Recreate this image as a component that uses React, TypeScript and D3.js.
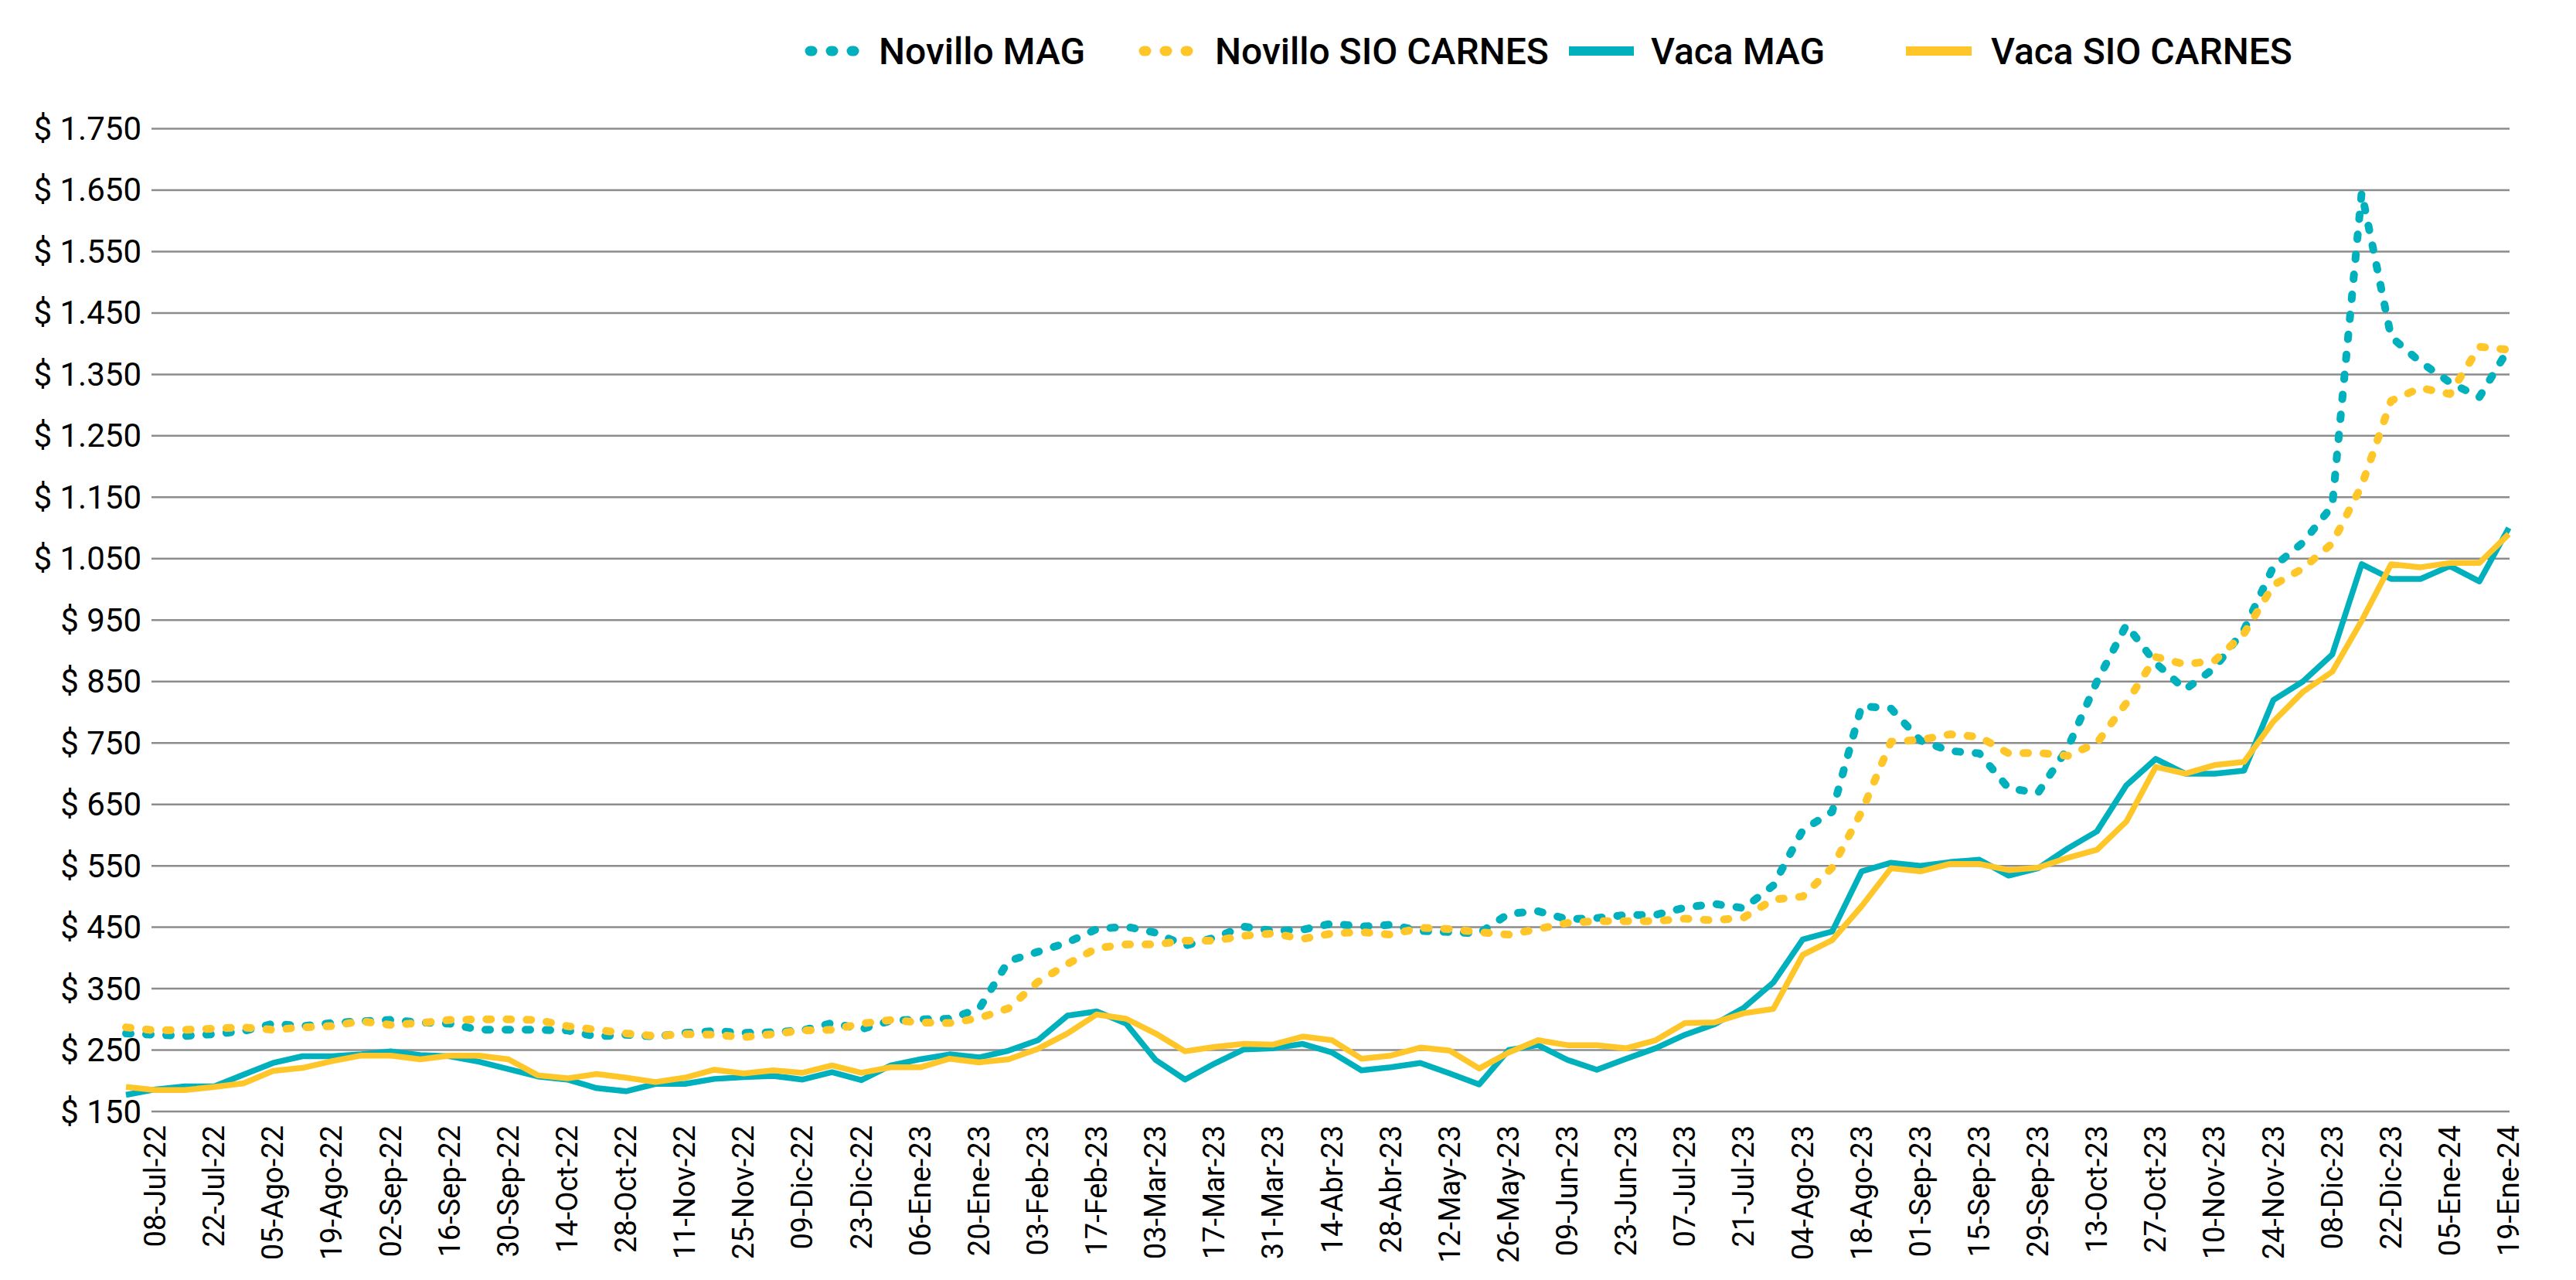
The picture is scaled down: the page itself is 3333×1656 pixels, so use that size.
import React, { useEffect, useRef } from 'react';
import * as d3 from 'd3';

const W = 3333;
const H = 1656;

// weekly categories (only every other one is labelled)
const weeks = [
  '01-Jul-22', '08-Jul-22', '15-Jul-22', '22-Jul-22', '29-Jul-22', '05-Ago-22', '12-Ago-22', '19-Ago-22', '26-Ago-22', '02-Sep-22',
  '09-Sep-22', '16-Sep-22', '23-Sep-22', '30-Sep-22', '07-Oct-22', '14-Oct-22', '21-Oct-22', '28-Oct-22', '04-Nov-22', '11-Nov-22',
  '18-Nov-22', '25-Nov-22', '02-Dic-22', '09-Dic-22', '16-Dic-22', '23-Dic-22', '30-Dic-22', '06-Ene-23', '13-Ene-23', '20-Ene-23',
  '27-Ene-23', '03-Feb-23', '10-Feb-23', '17-Feb-23', '24-Feb-23', '03-Mar-23', '10-Mar-23', '17-Mar-23', '24-Mar-23', '31-Mar-23',
  '07-Abr-23', '14-Abr-23', '21-Abr-23', '28-Abr-23', '05-May-23', '12-May-23', '19-May-23', '26-May-23', '02-Jun-23', '09-Jun-23',
  '16-Jun-23', '23-Jun-23', '30-Jun-23', '07-Jul-23', '14-Jul-23', '21-Jul-23', '28-Jul-23', '04-Ago-23', '11-Ago-23', '18-Ago-23',
  '25-Ago-23', '01-Sep-23', '08-Sep-23', '15-Sep-23', '22-Sep-23', '29-Sep-23', '06-Oct-23', '13-Oct-23', '20-Oct-23', '27-Oct-23',
  '03-Nov-23', '10-Nov-23', '17-Nov-23', '24-Nov-23', '01-Dic-23', '08-Dic-23', '15-Dic-23', '22-Dic-23', '29-Dic-23', '05-Ene-24',
  '12-Ene-24', '19-Ene-24',
];

const novilloMag = [
  277, 275, 273, 276, 281, 293, 289, 294, 297, 299,
  295, 293, 283, 283, 283, 282, 272, 275, 272, 278,
  281, 278, 279, 282, 294, 284, 298, 300, 301, 317,
  395, 410, 425, 447, 451, 441, 420, 433, 451, 444,
  446, 456, 451, 454, 444, 442, 440, 472, 476, 463,
  465, 470, 470, 482, 488, 481, 518, 608, 638, 810,
  806, 754, 737, 733, 676, 669, 741, 850, 942, 880,
  837, 872, 934, 1037, 1076, 1136, 1646, 1411, 1370, 1337,
  1313, 1392,
];

const novilloSio = [
  287, 282, 283, 285, 287, 283, 287, 289, 297, 291,
  294, 299, 300, 300, 299, 289, 283, 277, 273, 276,
  275, 271, 276, 282, 283, 293, 299, 295, 294, 302,
  318, 361, 390, 416, 422, 422, 428, 428, 436, 440,
  431, 440, 442, 438, 449, 447, 442, 438, 447, 457,
  460, 460, 460, 464, 461, 466, 495, 500, 547, 638,
  752, 755, 764, 760, 733, 734, 729, 750, 815, 890,
  878, 884, 928, 1007, 1034, 1075, 1169, 1307, 1328, 1318,
  1395, 1390,
];

const vacaMag = [
  177, 186, 191, 191, 210, 229, 240, 240, 243, 248,
  242, 240, 231, 219, 207, 202, 188, 183, 195, 195,
  203, 206, 208, 202, 214, 201, 225, 235, 243, 238,
  249, 266, 306, 313, 293, 234, 202, 228, 251, 253,
  260, 246, 217, 222, 229, 212, 194, 250, 258, 234,
  218, 236, 253, 275, 292, 319, 360, 430, 443, 541,
  555, 550, 556, 560, 534, 546, 578, 606, 681, 724,
  700, 700, 705, 820, 850, 894, 1041, 1017, 1017, 1038,
  1013, 1100,
];

const vacaSio = [
  190, 185, 185, 190, 196, 216, 221, 232, 241, 241,
  235, 241, 241, 235, 209, 204, 211, 205, 198, 205,
  218, 212, 217, 213, 225, 213, 222, 222, 236, 230,
  235, 252, 277, 308, 301, 277, 248, 255, 260, 259,
  272, 266, 236, 241, 254, 249, 220, 246, 266, 258,
  258, 253, 266, 294, 295, 310, 317, 405, 429, 484,
  546, 541, 553, 553, 543, 547, 563, 576, 622, 711,
  700, 714, 719, 785, 833, 866, 949, 1041, 1036, 1043,
  1043, 1090,
];

const yTicks = [150, 250, 350, 450, 550, 650, 750, 850, 950, 1050, 1150, 1250, 1350, 1450, 1550, 1650, 1750];

const seriesNames = ['Novillo MAG', 'Novillo SIO CARNES', 'Vaca MAG', 'Vaca SIO CARNES'];

const TEAL = '#00b0bd';
const YELLOW = '#ffc629';

const fmt = (v: number) => '$ ' + d3.format(',')(v).replace(/,/g, '.');

export default function App() {
  const ref = useRef<SVGSVGElement>(null);

  useEffect(() => {
    const svg = d3.select(ref.current);
    svg.selectAll('*').remove();

    const gridLeft = 196;
    const gridRight = 3247;

    const x = d3.scalePoint<string>().domain(weeks).range([163, 3246]);
    const y = d3.scaleLinear().domain([150, 1750]).range([1438, 166.5]);

    // horizontal gridlines
    svg.append('g')
      .selectAll('line')
      .data(yTicks)
      .join('line')
      .attr('x1', gridLeft)
      .attr('x2', gridRight)
      .attr('y1', d => y(d))
      .attr('y2', d => y(d))
      .attr('stroke', '#8c8c8c')
      .attr('stroke-width', 2.5);

    // y labels
    svg.append('g')
      .selectAll('text')
      .data(yTicks)
      .join('text')
      .attr('x', 183)
      .attr('y', d => y(d))
      .attr('text-anchor', 'end')
      .attr('dominant-baseline', 'central')
      .attr('font-family', 'Roboto, sans-serif')
      .attr('font-size', 42)
      .attr('fill', '#000')
      .text(d => fmt(d));

    // x labels, every second week
    const labelled = weeks.filter((_, i) => i % 2 === 1);
    svg.append('g')
      .selectAll('text')
      .data(labelled)
      .join('text')
      .attr('transform', d => `translate(${x(d)}, 1456) rotate(-90)`)
      .attr('text-anchor', 'end')
      .attr('dominant-baseline', 'central')
      .attr('font-family', 'Roboto, sans-serif')
      .attr('font-size', 38)
      .attr('fill', '#000')
      .text(d => d);

    const line = d3.line<number>()
      .x((_, i) => x(weeks[i]) as number)
      .y(d => y(d));

    const series = [
      { data: novilloMag, color: TEAL, dotted: true },
      { data: novilloSio, color: YELLOW, dotted: true },
      { data: vacaMag, color: TEAL, dotted: false },
      { data: vacaSio, color: YELLOW, dotted: false },
    ];

    series.forEach(s => {
      svg.append('path')
        .attr('d', line(s.data))
        .attr('fill', 'none')
        .attr('stroke', s.color)
        .attr('stroke-width', s.dotted ? 10 : 7.5)
        .attr('stroke-linejoin', 'round')
        .attr('stroke-linecap', s.dotted ? 'round' : 'butt')
        .attr('stroke-dasharray', s.dotted ? '6 20' : null);
    });

    // legend
    const legend = [
      { x0: 1048, x1: 1112, tx: 1137 },
      { x0: 1480, x1: 1544, tx: 1572 },
      { x0: 2030, x1: 2114, tx: 2136 },
      { x0: 2466, x1: 2551, tx: 2576 },
    ];
    const ly = 66;
    legend.forEach((l, i) => {
      const s = series[i];
      svg.append('line')
        .attr('x1', l.x0)
        .attr('x2', l.x1)
        .attr('y1', ly)
        .attr('y2', ly)
        .attr('stroke', s.color)
        .attr('stroke-width', s.dotted ? 13 : 12)
        .attr('stroke-linecap', s.dotted ? 'round' : 'butt')
        .attr('stroke-dasharray', s.dotted ? '3 24' : null);
      svg.append('text')
        .attr('x', l.tx)
        .attr('y', ly)
        .attr('dominant-baseline', 'central')
        .attr('font-family', 'Roboto, sans-serif')
        .attr('font-weight', 500)
        .attr('font-size', 48)
        .attr('fill', '#000')
        .text(seriesNames[i]);
    });
  }, []);

  return (
    <svg
      ref={ref}
      width={W}
      height={H}
      style={{ position: 'absolute', left: 0, top: 0, background: '#fff' }}
    />
  );
}
